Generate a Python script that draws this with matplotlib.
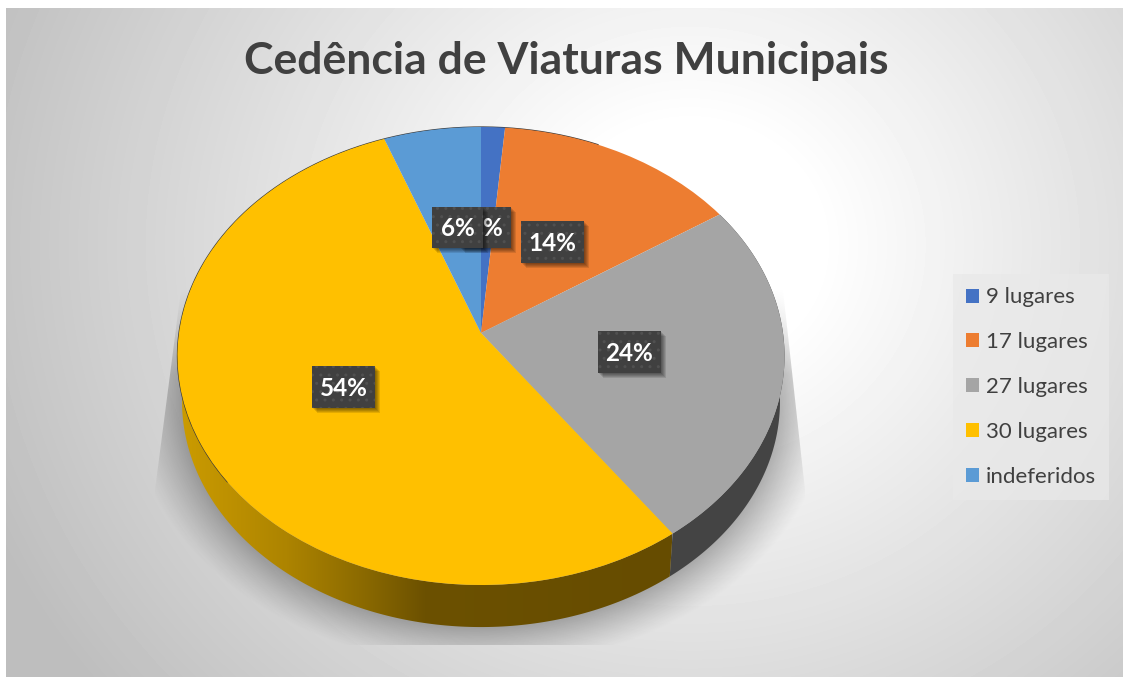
import numpy as np
import matplotlib
matplotlib.use("Agg")
import matplotlib.pyplot as plt
from matplotlib.patches import Polygon, Rectangle
from matplotlib.transforms import Transform
from matplotlib.path import Path
from matplotlib.colors import LinearSegmentedColormap

title = "Cedência de Viaturas Municipais"
categories = ["9 lugares", "17 lugares", "27 lugares", "30 lugares", "indeferidos"]
values = [1.4, 14.3, 24.4, 54.2, 5.7]
pct_labels = ["2%", "14%", "24%", "54%", "6%"]
colors = ["#4472C4", "#ED7D31", "#A5A5A5", "#FFC000", "#5B9BD5"]

W, H = 1123, 677
APEX = (481.0, 333.0)
PK, PB, PA = 0.1004, 226.7, 302.0
DEPTH, LOWER_SCALE = 45.5, 0.985


def persp(xy, scale=1.0, dy=0.0):
    xy = np.asarray(xy, float)
    d = 1 + PK * xy[..., 1]
    px = APEX[0] + scale * PA * xy[..., 0] / d
    py = APEX[1] - PB * xy[..., 1] / d
    py = 356 + scale * (py - 356) + dy
    return np.stack([px, py], axis=-1)


class Persp(Transform):
    input_dims = output_dims = 2
    has_inverse = False
    is_separable = False

    def transform_non_affine(self, values):
        return persp(values)

    def transform_path_non_affine(self, path):
        return Path(persp(path.vertices), path.codes)


fig = plt.figure(figsize=(W / 100, H / 100), dpi=100, facecolor="white")
ax = fig.add_axes([0, 0, 1, 1])

wedges, _ = ax.pie(values, colors=colors, startangle=90, counterclock=False,
                   wedgeprops=dict(linewidth=0))
ax.set_aspect("auto")
ax.set_xlim(0, W)
ax.set_ylim(H, 0)
ax.axis("off")
base = Persp() + ax.transData
for w in wedges:
    w.set_transform(base)
    w.set_zorder(5)

# background gradient
xx, yy = np.meshgrid(np.arange(6, W) + .5, np.arange(8, H) + .5)
r = np.hypot((xx - 690) / 1.08, (yy - 245))
bg = 1 - 0.245 * np.clip((r - 120) / 560, 0, 1.05)
ax.imshow(bg, cmap="gray", vmin=0, vmax=1, extent=(6, W, H, 8), aspect="auto",
          interpolation="bilinear", zorder=0)

# soft shadow
R = np.hypot((xx - 481) / 300, (yy - 399) / 229)
a = 0.30 * np.clip(1 - (R - 1) / 0.17, 0, 1) ** 1.2 * np.clip((yy - 285) / 90, 0, 1)
rgba = np.zeros(xx.shape + (4,))
rgba[..., 0:3] = 0.08
rgba[..., 3] = a
shadow = ax.imshow(rgba, extent=(6, W, H, 8), aspect="auto", zorder=1)
clip = Polygon([(181, 290), (155, 490), (155, 645), (805, 645), (805, 490), (783, 290)],
               closed=True, transform=ax.transData, fc="none", ec="none")
ax.add_patch(clip)
shadow.set_clip_path(clip)

# side wall
edges = np.deg2rad(np.cumsum([0] + values) * 3.6)


def wall(i):
    t = np.linspace(edges[i], edges[i + 1], 240)
    unit = np.stack([np.sin(t), np.cos(t)], axis=1)
    return np.vstack([persp(unit), persp(unit, LOWER_SCALE, DEPTH)[::-1]])


ax.add_patch(Polygon(wall(2), closed=True, fc="#444444", ec="none", zorder=3))
yellow = Polygon(wall(3), closed=True, fc="none", ec="none", zorder=3)
ax.add_patch(yellow)
grad = LinearSegmentedColormap.from_list("w", [(0, "#cc9c00"), (0.22, "#ad8400"),
                                               (0.38, "#8a6900"), (0.5, "#6c5100"),
                                               (1, "#664c00")])
im = ax.imshow(np.linspace(0, 1, 256)[None, :], cmap=grad, extent=(177, 672, 640, 340),
               aspect="auto", zorder=3)
im.set_clip_path(yellow)
ax.set_xlim(0, W)
ax.set_ylim(H, 0)

# thin dark rim on the far left and top of the disc
t = np.deg2rad(np.linspace(232, 385, 300))
rim = persp(np.stack([np.sin(t), np.cos(t)], axis=1))
ax.plot(rim[:, 0], rim[:, 1], color="#3a3a3a", lw=0.9, zorder=4)

# data labels: box centre and size in picture pixels, later ones cover earlier ones
label_boxes = [(485.5, 227.5, 51, 41), (552.5, 242, 63, 42), (629.5, 352, 63, 42),
               (343.5, 387, 63, 42), (457.5, 227.5, 51, 41)]
for k, (txt, (lx, ly, bw, bh)) in enumerate(zip(pct_labels, label_boxes)):
    z = 8 + k * 0.1
    for off in (5, 4, 3, 2, 1):
        ax.add_patch(Rectangle((lx - bw / 2 + off, ly - bh / 2 + off), bw, bh, fc="black",
                               ec="none", alpha=0.11, zorder=z))
    ax.add_patch(Rectangle((lx - bw / 2, ly - bh / 2), bw, bh, fc="#404040", ec="#505050",
                           lw=0, hatch="..", zorder=z + 0.01))
    ax.text(lx, ly + 1.5, txt, color="white", fontsize=17.5, fontweight="bold", family="Lato",
            ha="center", va="center", zorder=z + 0.02)

ax.text(566.5, 61, title, color="#404040", fontsize=32, fontweight="bold", family="Lato",
        ha="center", va="center", zorder=9)

leg = fig.legend(wedges, categories, loc="center", bbox_to_anchor=(1031 / W, 1 - 387 / H),
                 prop=dict(family="Lato", size=16), labelcolor="#404040",
                 handlelength=0.6, handleheight=0.6, handletextpad=0.28,
                 labelspacing=1.115, borderpad=0.6, fancybox=False,
                 facecolor="#e9e9e9", edgecolor="none", framealpha=0.75)
leg.set_zorder(10)

fig.savefig("out.png", dpi=100)
